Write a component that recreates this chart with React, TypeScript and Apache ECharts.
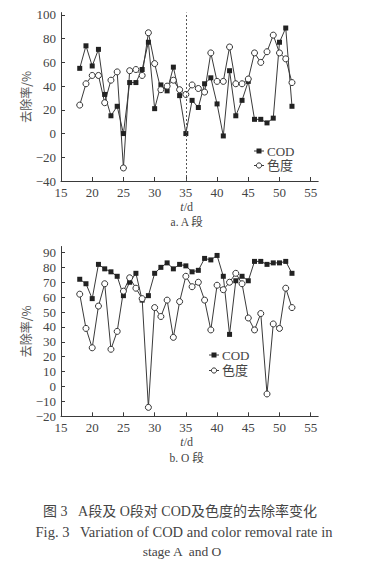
import React, { useEffect, useRef } from "react";
import * as echarts from "echarts";

const days = [18, 19, 20, 21, 22, 23, 24, 25, 26, 27, 28, 29, 30, 31, 32, 33, 34, 35, 36, 37, 38, 39, 40, 41, 42, 43, 44, 45, 46, 47, 48, 49, 50, 51, 52];
const codA = [55, 74, 57, 71, 33, 15, 23, 0, 43, 43, 54, 77, 21, 41, 36, 56, 32, 0, 28, 22, 42, 47, 25, -2, 53, 15, 28, 44, 12, 12, 9, 13, 77, 89, 23];
const colorA = [24, 42, 49, 49, 26, 45, 52, -29, 53, 54, 49, 85, 59, 37, 40, 45, 37, 33, 41, 38, 35, 68, 44, 44, 73, 42, 42, 46, 68, 60, 69, 83, 68, 63, 43];
const codO = [72, 69, 59, 82, 79, 77, 74, 61, 70, 76, 58, 61, 76, 80, 83, 79, 82, 81, 77, 78, 86, 85, 88, 74, 35, 71, 74, 71, 84, 84, 82, 83, 83, 84, 76];
const colorO = [62, 39, 26, 54, 69, 25, 37, 64, 73, 66, 59, -14, 53, 47, 58, 33, 57, 74, 67, 70, 58, 38, 68, 65, 70, 76, 69, 46, 38, 49, -5, 42, 39, 66, 53];
const xTicks = [15, 20, 25, 30, 35, 40, 45, 50, 55];
const yTicksA = [-40, -20, 0, 20, 40, 60, 80, 100];
const yTicksO = [-20, -10, 0, 10, 20, 30, 40, 50, 60, 70, 80, 90];
const stageSplitDay = 35;
const seriesNames = ["COD", "色度"];

const SERIF = "'Liberation Serif', 'Noto Sans CJK SC', serif";
const TXT = "#444";
const LINE = "#3a3a3a";

function pairs(vals: number[]) {
  return days.map((d, i) => [d, vals[i]]);
}

function xAxis(gridIndex: number) {
  return {
    type: "value",
    gridIndex,
    min: 15,
    max: 56.2,
    axisLine: { show: true, onZero: false, lineStyle: { color: LINE, width: 1 } },
    axisTick: { show: true, inside: true, length: 4, customValues: xTicks, lineStyle: { color: LINE } },
    axisLabel: { customValues: xTicks, fontFamily: SERIF, fontSize: 13, color: TXT, margin: 5 },
    splitLine: { show: false },
  };
}

function yAxis(gridIndex: number, min: number, max: number, ticks: number[]) {
  return {
    type: "value",
    gridIndex,
    min,
    max,
    name: "去除率/%",
    nameLocation: "middle",
    nameRotate: 90,
    nameGap: 30,
    nameMoveOverlap: false,
    nameTextStyle: { fontFamily: "'Noto Sans CJK SC', sans-serif", fontSize: 12, color: "#555" },
    axisLine: { show: true, onZero: false, lineStyle: { color: LINE, width: 1 } },
    axisTick: { show: true, inside: true, length: 4, customValues: ticks, lineStyle: { color: LINE } },
    axisLabel: {
      customValues: ticks,
      fontFamily: SERIF,
      fontSize: 13,
      color: TXT,
      margin: 5,
      formatter: (v: number) => String(v).replace("-", "−"),
    },
    splitLine: { show: false },
  };
}

function codSeries(vals: number[], idx: number, extra: any = {}) {
  return {
    name: seriesNames[0],
    type: "line",
    xAxisIndex: idx,
    yAxisIndex: idx,
    data: pairs(vals),
    symbol: "rect",
    symbolSize: 5,
    itemStyle: { color: "#222" },
    lineStyle: { color: LINE, width: 1 },
    ...extra,
  };
}

function colorSeries(vals: number[], idx: number) {
  return {
    name: seriesNames[1],
    type: "line",
    xAxisIndex: idx,
    yAxisIndex: idx,
    data: pairs(vals),
    symbol: "circle",
    symbolSize: 6,
    itemStyle: { color: "#fff", borderColor: "#333", borderWidth: 1 },
    lineStyle: { color: LINE, width: 1 },
  };
}

// hand-drawn legend: icon center (cx, cy), row spacing dy
function legendGraphic(cx: number, cy: number, dy: number) {
  const els: any[] = [];
  seriesNames.forEach((name, i) => {
    const y = cy + i * dy;
    els.push({
      type: "line",
      shape: { x1: cx - 5, y1: y, x2: cx + 5, y2: y },
      style: { stroke: LINE, lineWidth: 1 },
    });
    if (i === 0) {
      els.push({ type: "rect", shape: { x: cx - 2.5, y: y - 2.5, width: 5, height: 5 }, style: { fill: "#222" } });
    } else {
      els.push({ type: "circle", shape: { cx, cy: y, r: 2.6 }, style: { fill: "#fff", stroke: "#333", lineWidth: 1 } });
    }
    els.push({
      type: "text",
      x: cx + 8,
      y,
      style: { text: name, x: 0, y: 0, align: "left", verticalAlign: "middle", fontFamily: SERIF, fontSize: 13, fill: TXT },
    });
  });
  return els;
}

function label(text: string, x: number, y: number, size = 12, rich?: any) {
  return {
    type: "text",
    x,
    y,
    style: {
      text,
      x: 0,
      y: 0,
      align: "center",
      verticalAlign: "middle",
      fontFamily: SERIF,
      fontSize: size,
      fill: TXT,
      rich,
    },
  };
}

export default function App() {
  const ref = useRef<HTMLDivElement>(null);
  useEffect(() => {
    if (!ref.current) return;
    const chart = echarts.init(ref.current, undefined, { renderer: "svg" });
    const italicRich = { i: { fontStyle: "italic", fontFamily: SERIF, fontSize: 12, fill: TXT } };
    chart.setOption({
      animation: false,
      backgroundColor: "#fff",
      grid: [
        { left: 61, top: 12.6, width: 257.2, height: 168.4 },
        { left: 61, top: 246.5, width: 257.2, height: 169.8 },
      ],
      xAxis: [xAxis(0), xAxis(1)],
      yAxis: [yAxis(0, -40, 102, yTicksA), yAxis(1, -20, 94, yTicksO)],
      series: [
        codSeries(codA, 0, {
          markLine: {
            silent: true,
            symbol: ["none", "none"],
            label: { show: false },
            lineStyle: { type: [2, 2], color: "#555", width: 1 },
            data: [{ xAxis: stageSplitDay }],
          },
        }),
        colorSeries(colorA, 0),
        codSeries(codO, 1),
        colorSeries(colorO, 1),
      ],
      graphic: [
        ...legendGraphic(259, 151, 14.5),
        ...legendGraphic(214, 355, 15.5),
        label("{i|t}/d", 186.7, 207, 12, italicRich),
        label("a. A 段", 186.7, 221.5, 11.5),
        label("{i|t}/d", 186.7, 442, 12, italicRich),
        label("b. O 段", 186.7, 458, 11.5),
        label("图 3   A段及 O段对 COD及色度的去除率变化", 180, 511, 14),
        label("Fig. 3   Variation of COD and color removal rate in", 184, 531.7, 14.5),
        label("stage A  and O", 182, 551.7, 13.5),
      ],
    });
    return () => chart.dispose();
  }, []);
  return (
    <div
      ref={ref}
      style={{ position: "fixed", left: 0, top: 0, width: 377, height: 567, background: "#fff" }}
    />
  );
}
